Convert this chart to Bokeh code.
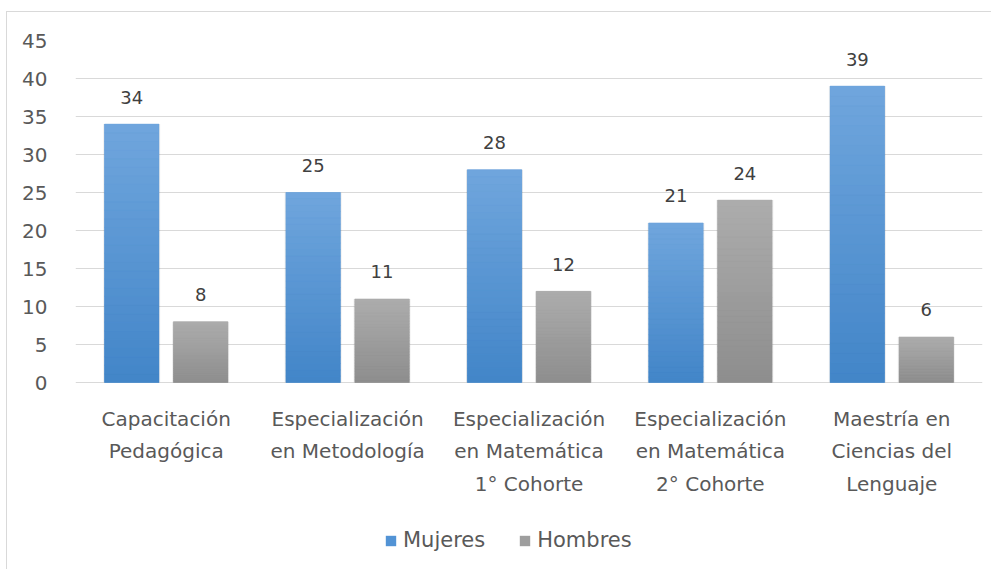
from bokeh.plotting import figure
from bokeh.models import ColumnDataSource, FactorRange, Range1d, Legend, LegendItem, FixedTicker
from bokeh.transform import dodge
from bokeh.core.properties import value
from bokeh.embed import file_html
from bokeh.resources import INLINE

categories = [
    "Capacitación Pedagógica",
    "Especialización en Metodología",
    "Especialización en Matemática 1° Cohorte",
    "Especialización en Matemática 2° Cohorte",
    "Maestría en Ciencias del Lenguaje",
]
category_labels = [
    "Capacitación\nPedagógica",
    "Especialización\nen Metodología",
    "Especialización\nen Matemática\n1° Cohorte",
    "Especialización\nen Matemática\n2° Cohorte",
    "Maestría en\nCiencias del\nLenguaje",
]
mujeres = [34, 25, 28, 21, 39]
hombres = [8, 11, 12, 24, 6]
y_ticks = [0, 5, 10, 15, 20, 25, 30, 35, 40, 45]

FONT = "DejaVu Sans"
TXT = "#595959"

# layout (pixels, relative to the figure which is offset by a CSS margin)
MX, MY = 7, 12
W, H = 985, 558
F_LEFT, F_TOP, F_RIGHT, F_BOTTOM = 75 - MX, 40 - MY, 982 - MX, 560 - MY
ZERO_PX = 382 - MY
px_per_unit = (ZERO_PX - F_TOP) / 45.0
y_start = -(F_BOTTOM - ZERO_PX) / px_per_unit

BAR_W = 0.30
OFF = 0.19


def lerp(c1, c2, t):
    a = [int(c1[i:i + 2], 16) for i in (1, 3, 5)]
    b = [int(c2[i:i + 2], 16) for i in (1, 3, 5)]
    return "#%02x%02x%02x" % tuple(round(a[j] + (b[j] - a[j]) * t) for j in range(3))


def gradient_source(vals, bottom_col, top_col, n=30):
    cat, bot, top, col = [], [], [], []
    for c, v in zip(categories, vals):
        for k in range(n):
            cat.append(c)
            bot.append(v * k / n)
            top.append(v * (k + 1) / n)
            col.append(lerp(bottom_col, top_col, (k + 0.5) / n))
    return ColumnDataSource(dict(cat=cat, bottom=bot, top=top, color=col))


src = ColumnDataSource(dict(
    cat=categories, mujeres=mujeres, hombres=hombres,
    m_lab=[str(v) for v in mujeres], h_lab=[str(v) for v in hombres],
    cat_lab=category_labels, lab_y=[-3.2] * len(categories),
))

p = figure(
    width=W, height=H,
    x_range=FactorRange(*categories, range_padding=0, factor_padding=0),
    y_range=Range1d(y_start, 45),
    output_backend="svg", toolbar_location=None,
    min_border_left=F_LEFT, min_border_right=W - F_RIGHT,
    min_border_top=F_TOP, min_border_bottom=H - F_BOTTOM,
)
p.styles = {"border-left": "1px solid #d9d9d9", "border-top": "1px solid #d9d9d9",
            "margin-left": f"{MX - 1}px", "margin-top": f"{MY - 1}px"}
p.outline_line_color = None
p.background_fill_color = "white"
p.border_fill_color = "white"

# soft shadows
p.vbar(x=dodge("cat", -OFF, range=p.x_range), top="mujeres", width=BAR_W + 0.014, source=src,
       fill_color="black", fill_alpha=0.07, line_color=None)
p.vbar(x=dodge("cat", OFF, range=p.x_range), top="hombres", width=BAR_W + 0.014, source=src,
       fill_color="black", fill_alpha=0.07, line_color=None)

# base bars (solid; used for legend)
rm = p.vbar(x=dodge("cat", -OFF, range=p.x_range), top="mujeres", width=BAR_W, source=src,
            fill_color="#5293d5", line_color=None)
rh = p.vbar(x=dodge("cat", OFF, range=p.x_range), top="hombres", width=BAR_W, source=src,
            fill_color="#9e9e9e", line_color=None)

# gradient overlays
gm = gradient_source(mujeres, "#4285c8", "#70a6dd")
gh = gradient_source(hombres, "#8d8d8d", "#adadad")
p.vbar(x=dodge("cat", -OFF, range=p.x_range), bottom="bottom", top="top", width=BAR_W,
       source=gm, fill_color="color", line_color="color", line_width=0.5)
p.vbar(x=dodge("cat", OFF, range=p.x_range), bottom="bottom", top="top", width=BAR_W,
       source=gh, fill_color="color", line_color="color", line_width=0.5)

# value labels
p.text(x=dodge("cat", -OFF, range=p.x_range), y="mujeres", text="m_lab", source=src,
       text_align="center", text_baseline="alphabetic", y_offset=-27,
       text_font=value(FONT), text_font_size="18px", text_color="#404040")
p.text(x=dodge("cat", OFF, range=p.x_range), y="hombres", text="h_lab", source=src,
       text_align="center", text_baseline="alphabetic", y_offset=-27,
       text_font=value(FONT), text_font_size="18px", text_color="#404040")

# category labels
p.text(x="cat", y="lab_y", text="cat_lab", source=src,
       text_align="center", text_baseline="top", text_line_height=1.36,
       text_font=value(FONT), text_font_size="20px", text_color=TXT)

# axes
p.xaxis.visible = False
p.xgrid.grid_line_color = None
p.ygrid.grid_line_color = "#d9d9d9"
p.ygrid.ticker = FixedTicker(ticks=y_ticks)
p.yaxis.ticker = FixedTicker(ticks=y_ticks)
p.yaxis.axis_line_color = None
p.yaxis.major_tick_line_color = None
p.yaxis.minor_tick_line_color = None
p.yaxis.major_label_text_font = FONT
p.yaxis.major_label_text_font_size = "20px"
p.yaxis.major_label_text_color = TXT
p.yaxis.major_label_standoff = 22

legend = Legend(items=[LegendItem(label="Mujeres", renderers=[rm]),
                       LegendItem(label="Hombres", renderers=[rh])],
                location=(309, 8), orientation="horizontal",
                label_text_font=FONT, label_text_font_size="21px", label_text_color=TXT,
                glyph_width=13, glyph_height=13, label_standoff=6, spacing=33,
                padding=0, margin=0, border_line_color=None, background_fill_alpha=0)
p.add_layout(legend, "center")

open("out.html", "w").write(file_html(p, INLINE))
